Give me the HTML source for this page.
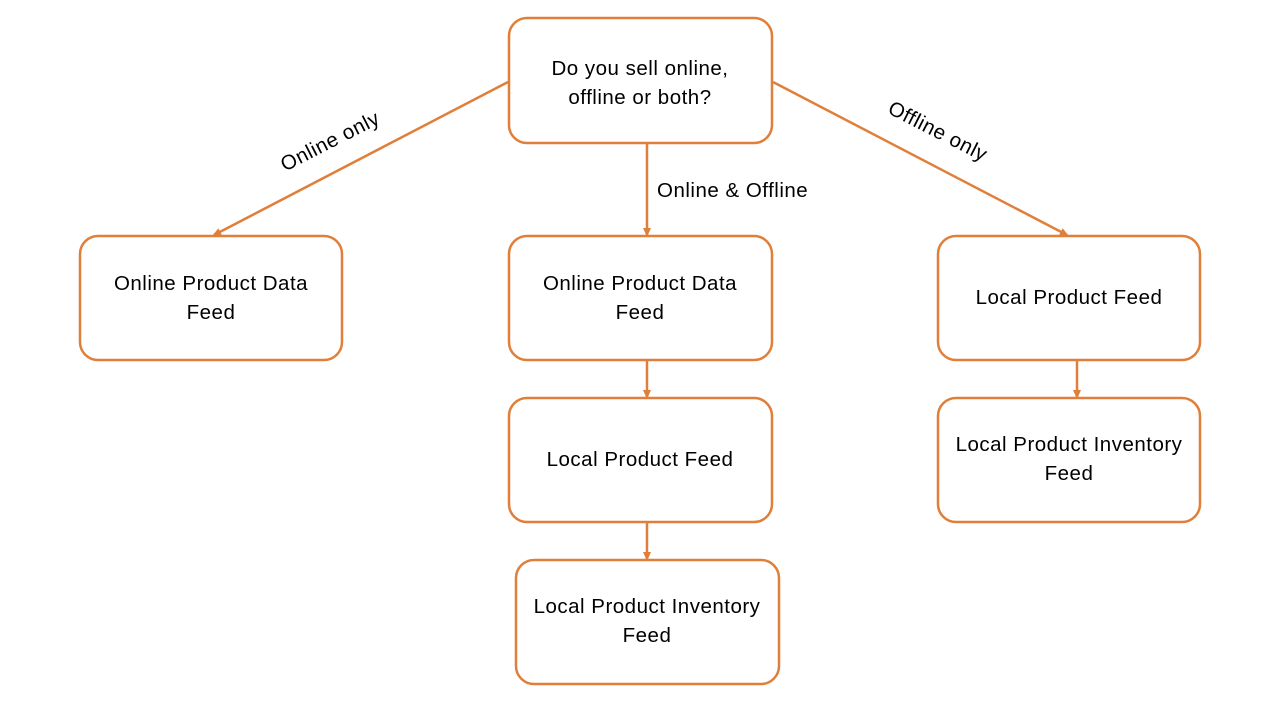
<!DOCTYPE html>
<html><head><meta charset="utf-8"><style>
html,body{margin:0;padding:0;background:#fff}
svg text{font-family:"Liberation Sans",sans-serif;font-size:20.5px;letter-spacing:0.5px;fill:#000}
</style></head><body>
<svg width="1280" height="720" viewBox="0 0 1280 720" xmlns="http://www.w3.org/2000/svg">
<defs><marker id="a" markerWidth="10" markerHeight="10" refX="7" refY="5" orient="auto" markerUnits="userSpaceOnUse"><path d="M0,1 L9,5 L0,9 z" fill="#E07F3A"/></marker></defs>
<g fill="#fff" stroke="#E07F3A" stroke-width="2.5">
<rect x="509" y="18" width="263" height="125" rx="18"/>
<rect x="80" y="236" width="262" height="124" rx="18"/>
<rect x="509" y="236" width="263" height="124" rx="18"/>
<rect x="938" y="236" width="262" height="124" rx="18"/>
<rect x="509" y="398" width="263" height="124" rx="18"/>
<rect x="938" y="398" width="262" height="124" rx="18"/>
<rect x="516" y="560" width="263" height="124" rx="18"/>
</g>
<g stroke="#E07F3A" stroke-width="2.5" marker-end="url(#a)">
<line x1="508" y1="82" x2="214" y2="235"/>
<line x1="773" y1="82" x2="1067" y2="235"/>
<line x1="647" y1="143" x2="647" y2="235"/>
<line x1="647" y1="360" x2="647" y2="397"/>
<line x1="647" y1="522" x2="647" y2="559"/>
<line x1="1077" y1="360" x2="1077" y2="397"/>
</g>
<g text-anchor="middle">
<text x="640" y="75">Do you sell online,</text>
<text x="640" y="104">offline or both?</text>
<text x="211" y="290">Online Product Data</text>
<text x="211" y="319">Feed</text>
<text x="640" y="290">Online Product Data</text>
<text x="640" y="319">Feed</text>
<text x="1069" y="304">Local Product Feed</text>
<text x="640" y="466">Local Product Feed</text>
<text x="1069" y="451">Local Product Inventory</text>
<text x="1069" y="480">Feed</text>
<text x="647" y="613">Local Product Inventory</text>
<text x="647" y="642">Feed</text>
<text x="330" y="148" transform="rotate(-27 330 141)">Online only</text>
<text x="938" y="138" transform="rotate(27 938 131)">Offline only</text>
</g>
<text x="657" y="197">Online &amp; Offline</text>
</svg>
</body></html>
